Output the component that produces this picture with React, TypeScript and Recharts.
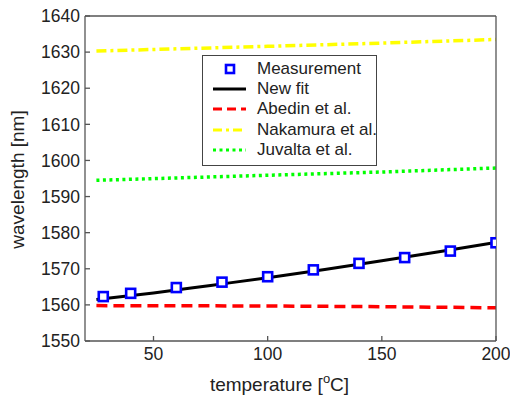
import React from 'react';
import {
  ComposedChart,
  Line,
  Scatter,
  XAxis,
  YAxis,
  Label,
} from 'recharts';

// Measured resonance wavelength vs. temperature
const measTemps = [28, 40, 60, 80, 100, 120, 140, 160, 180, 200];
const measValues = [1562.3, 1563.2, 1564.8, 1566.3, 1567.8, 1569.7, 1571.5, 1573.1, 1574.9, 1577.2];

// Model curves
const fitTemps = [25, 50, 75, 100, 125, 150, 175, 200];
const fitValues = [1561.5, 1563.3, 1565.4, 1567.5, 1569.8, 1572.2, 1574.7, 1577.3];

const abedinTemps = [25, 100, 150, 200];
const abedinValues = [1559.8, 1559.7, 1559.5, 1559.2];

const nakamuraTemps = [25, 100, 150, 200];
const nakamuraValues = [1630.3, 1631.6, 1632.5, 1633.5];

const juvaltaTemps = [25, 100, 150, 200];
const juvaltaValues = [1594.5, 1595.9, 1596.8, 1597.9];

const xTicks = [50, 100, 150, 200];
const yTicks = [1550, 1560, 1570, 1580, 1590, 1600, 1610, 1620, 1630, 1640];

const toPoints = (xs: number[], ys: number[]) => xs.map((t, i) => ({ t, v: ys[i] }));

const measData = toPoints(measTemps, measValues);
const fitData = toPoints(fitTemps, fitValues);
const abedinData = toPoints(abedinTemps, abedinValues);
const nakamuraData = toPoints(nakamuraTemps, nakamuraValues);
const juvaltaData = toPoints(juvaltaTemps, juvaltaValues);

const FONT = '"Liberation Sans", Arial, Helvetica, sans-serif';
const AXIS = '#555555';
const TEXT = '#222222';

const BLUE = '#0000ff';
const RED = '#ff0000';
const YELLOW = '#ffff00';
const GREEN = '#00ff00';

const SquareMarker = (props: any) => {
  const { cx, cy } = props;
  if (cx == null || cy == null) return null;
  const s = 9;
  return (
    <rect
      x={cx - s / 2}
      y={cy - s / 2}
      width={s}
      height={s}
      fill="#ffffff"
      stroke={BLUE}
      strokeWidth={2.6}
    />
  );
};

const legendItems = [
  { label: 'Measurement', kind: 'marker' },
  { label: 'New fit', color: '#000000', dash: undefined },
  { label: 'Abedin et al.', color: RED, dash: '9 5' },
  { label: 'Nakamura et al.', color: YELLOW, dash: '9 4 3 4' },
  { label: 'Juvalta et al.', color: GREEN, dash: '3 3.5' },
];

const LegendBox = () => (
  <div
    style={{
      position: 'absolute',
      left: 202,
      top: 55,
      width: 175,
      height: 111,
      border: '1.3px solid #444',
      background: '#ffffff',
      boxSizing: 'border-box',
      paddingTop: 3,
      fontFamily: FONT,
    }}
  >
    {legendItems.map((it) => (
      <div key={it.label} style={{ display: 'flex', alignItems: 'center', height: 20.2, whiteSpace: 'nowrap' }}>
        <svg width={54} height={20} style={{ flex: 'none' }}>
          {it.kind === 'marker' ? (
            <rect x={23} y={6} width={8} height={8} fill="#fff" stroke={BLUE} strokeWidth={2.6} />
          ) : (
            <line
              x1={10}
              x2={43}
              y1={10}
              y2={10}
              stroke={it.color}
              strokeWidth={3}
              strokeDasharray={it.dash}
            />
          )}
        </svg>
        <span style={{ fontSize: 17, color: TEXT, lineHeight: '20px' }}>{it.label}</span>
      </div>
    ))}
  </div>
);

const XLabel = (props: any) => {
  const vb = props.viewBox || {};
  const cx = vb.x + vb.width / 2 - 11;
  const y = vb.y + 50;
  return (
    <text x={cx} y={y} textAnchor="middle" fontFamily={FONT} fontSize={19} fill={TEXT}>
      temperature [
      <tspan fontSize={13} dy={-8}>o</tspan>
      <tspan dy={8}>C]</tspan>
    </text>
  );
};

const YLabel = (props: any) => {
  const vb = props.viewBox || {};
  const x = vb.x + 24;
  const cy = vb.y + vb.height / 2 + 1;
  return (
    <text
      x={x}
      y={cy}
      transform={`rotate(-90 ${x} ${cy})`}
      textAnchor="middle"
      fontFamily={FONT}
      fontSize={19}
      fill={TEXT}
    >
      wavelength [nm]
    </text>
  );
};

const tickStyle = { fontFamily: FONT, fontSize: 17.5, fill: TEXT };

export default function App() {
  return (
    <div style={{ position: 'absolute', left: 0, top: 0, width: 510, height: 397, background: '#fff' }}>
      <ComposedChart
        width={510}
        height={397}
        margin={{ top: 15, right: 13, bottom: 0, left: 0 }}
      >
        <XAxis
          xAxisId="b"
          dataKey="t"
          type="number"
          domain={[20, 200]}
          ticks={xTicks}
          interval={0}
          allowDataOverflow
          height={56}
          stroke={AXIS}
          strokeWidth={1.3}
          tickSize={-5}
          tickMargin={12}
          tick={tickStyle}
        >
          <Label content={XLabel} />
        </XAxis>
        <XAxis
          xAxisId="top"
          orientation="top"
          dataKey="t"
          type="number"
          domain={[20, 200]}
          ticks={xTicks}
          interval={0}
          allowDataOverflow
          height={1}
          stroke={AXIS}
          strokeWidth={1.3}
          tickSize={-5}
          tick={false}
        />
        <YAxis
          yAxisId="l"
          dataKey="v"
          type="number"
          domain={[1550, 1640]}
          ticks={yTicks}
          interval={0}
          allowDataOverflow
          width={85}
          stroke={AXIS}
          strokeWidth={1.3}
          tickSize={-5}
          tickMargin={10}
          tick={tickStyle}
        >
          <Label content={YLabel} />
        </YAxis>
        <YAxis
          yAxisId="r"
          orientation="right"
          dataKey="v"
          type="number"
          domain={[1550, 1640]}
          ticks={yTicks}
          interval={0}
          allowDataOverflow
          width={1}
          stroke={AXIS}
          strokeWidth={1.3}
          tickSize={-5}
          tick={false}
        />
        <Line
          xAxisId="b"
          yAxisId="l"
          data={nakamuraData}
          dataKey="v"
          stroke={YELLOW}
          strokeWidth={3.5}
          strokeDasharray="10 4 3 4"
          dot={false}
          activeDot={false}
          isAnimationActive={false}
        />
        <Line
          xAxisId="b"
          yAxisId="l"
          data={juvaltaData}
          dataKey="v"
          stroke={GREEN}
          strokeWidth={3.5}
          strokeDasharray="3 3.5"
          dot={false}
          activeDot={false}
          isAnimationActive={false}
        />
        <Line
          xAxisId="b"
          yAxisId="l"
          data={abedinData}
          dataKey="v"
          stroke={RED}
          strokeWidth={3.5}
          strokeDasharray="11 6"
          dot={false}
          activeDot={false}
          isAnimationActive={false}
        />
        <Line
          xAxisId="b"
          yAxisId="l"
          data={fitData}
          dataKey="v"
          type="monotone"
          stroke="#000000"
          strokeWidth={3}
          dot={false}
          activeDot={false}
          isAnimationActive={false}
        />
        <Scatter
          xAxisId="b"
          yAxisId="l"
          data={measData}
          dataKey="v"
          shape={SquareMarker}
          isAnimationActive={false}
        />
      </ComposedChart>
      <LegendBox />
    </div>
  );
}
